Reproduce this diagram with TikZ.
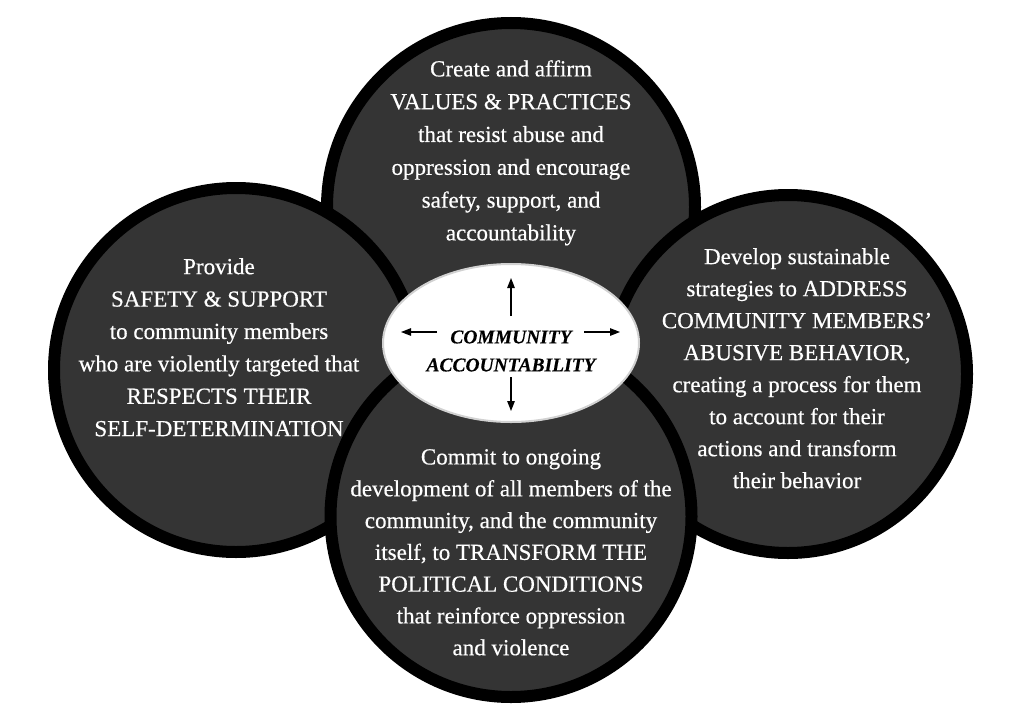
\documentclass[tikz,border=0pt]{standalone}
\usepackage{fontspec}
\setmainfont{Liberation Serif}
\newfontfamily\discfont{Liberation Serif}[FakeBold=0.5,Ligatures=TeX]
\newfontfamily\corefont{Liberation Serif}[BoldItalicFeatures={FakeBold=0.3}]
\usetikzlibrary{arrows.meta,shapes.geometric}
\definecolor{discgray}{RGB}{52,52,52}
\begin{document}
\begin{tikzpicture}[x=1pt,y=-1pt,
  disc/.style={circle, draw=black, line width=12pt, fill=discgray, inner sep=0pt},
  txt/.style={text=white, align=center, anchor=north, inner sep=0pt},
  arr/.style={-{Triangle[length=10pt,width=7.5pt]}, line width=1.3pt, black}]
\useasboundingbox[fill=white] (0,0) rectangle (1024,725);
\node[disc, minimum size=368pt] (top) at (511,207) {};
\node[disc, minimum size=364pt] (left) at (236,370) {};
\node[disc, minimum size=358pt] (right) at (788,374) {};
\node[disc, minimum size=361pt] (bottom) at (511,516.5) {};
\node[ellipse, fill=white, draw=black!18, line width=2pt, minimum width=256pt, minimum height=158pt, inner sep=0pt] (core) at (511,343) {};

\node[txt, font=\discfont\fontsize{23}{32.8}\selectfont] (toptxt) at (511,60)
  {Create and affirm\\VALUES \& PRACTICES\\that resist abuse and\\oppression and encourage\\safety, support, and\\accountability};
\node[txt, font=\discfont\fontsize{23}{32.4}\selectfont] (lefttxt) at (219,258)
  {Provide\\SAFETY \& SUPPORT\\to community members\\who are violently targeted that\\RESPECTS THEIR\\SELF-DETERMINATION};
\node[txt, font=\discfont\fontsize{23}{32}\selectfont] (righttxt) at (797,248)
  {Develop sustainable\\strategies to ADDRESS\\COMMUNITY MEMBERS’\\ABUSIVE BEHAVIOR,\\creating a process for them\\to account for their\\actions and transform\\their behavior};
\node[txt, font=\discfont\fontsize{23}{31.8}\selectfont] (bottomtxt) at (511,449)
  {Commit to ongoing\\development of all members of the\\community, and the community\\itself, to TRANSFORM THE\\POLITICAL CONDITIONS\\that reinforce oppression\\and violence};

\node[align=center, inner sep=0pt, font=\corefont\fontsize{19.5}{28}\selectfont\bfseries\itshape] (coretxt) at (511,351)
  {COMMUNITY\\ACCOUNTABILITY};

\coordinate (upS) at (511,316);
\coordinate (upE) at (511,278);
\coordinate (dnS) at (511,377);
\coordinate (dnE) at (511,411);
\coordinate (lfS) at (437,332);
\coordinate (lfE) at (401,332);
\coordinate (rtS) at (584,332);
\coordinate (rtE) at (620,332);
\draw[arr] (upS) -- (upE);
\draw[arr] (dnS) -- (dnE);
\draw[arr] (lfS) -- (lfE);
\draw[arr] (rtS) -- (rtE);
\end{tikzpicture}
\end{document}
